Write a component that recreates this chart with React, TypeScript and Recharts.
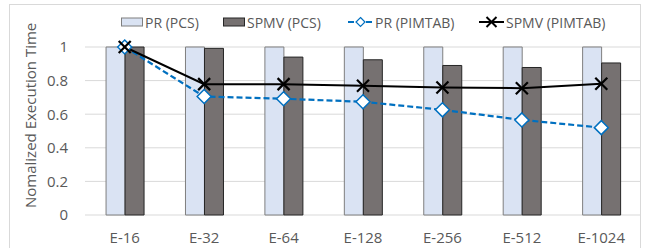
import React from "react";
import {
  ComposedChart,
  Bar,
  Line,
  XAxis,
  YAxis,
  CartesianGrid,
} from "recharts";

// categories and series values
const categories = ["E-16", "E-32", "E-64", "E-128", "E-256", "E-512", "E-1024"];
const prPcs = [1, 1, 1, 1, 1, 1, 1];
const spmvPcs = [1, 0.992, 0.94, 0.924, 0.89, 0.878, 0.905];
const prPimtab = [1, 0.705, 0.692, 0.674, 0.626, 0.566, 0.52];
const spmvPimtab = [1, 0.779, 0.779, 0.769, 0.759, 0.755, 0.781];
const yTicks = [0, 0.2, 0.4, 0.6, 0.8, 1];

const FONT = "'Open Sans', sans-serif";
const TEXT = "#595959";
const PR_FILL = "#DAE3F3";
const PR_STROKE = "#7F7F7F";
const SPMV_FILL = "#767171";
const SPMV_STROKE = "#262626";
const BLUE = "#0070C0";

const data = categories.map((c, i) => ({
  name: c,
  prPcs: prPcs[i],
  spmvPcs: spmvPcs[i],
  prPimtab: prPimtab[i],
  spmvPimtab: spmvPimtab[i],
}));

// diamond marker for PR (PIMTAB)
function DiamondDot(props: any) {
  const { cx, cy } = props;
  if (cx == null || cy == null) return null;
  const r = 7;
  return (
    <polygon
      points={`${cx},${cy - r} ${cx + r},${cy} ${cx},${cy + r} ${cx - r},${cy}`}
      fill="#FFFFFF"
      stroke={BLUE}
      strokeWidth={1.5}
    />
  );
}

// X marker for SPMV (PIMTAB)
function CrossDot(props: any) {
  const { cx, cy } = props;
  if (cx == null || cy == null) return null;
  const r = 6;
  return (
    <g stroke="#000000" strokeWidth={2.2}>
      <line x1={cx - r} y1={cy - r} x2={cx + r} y2={cy + r} />
      <line x1={cx - r} y1={cy + r} x2={cx + r} y2={cy - r} />
    </g>
  );
}

function LegendItem({ left, label, icon }: { left: number; label: string; icon: React.ReactNode }) {
  return (
    <div
      style={{
        position: "absolute",
        left,
        top: 12,
        display: "flex",
        alignItems: "center",
        height: 20,
        fontFamily: FONT,
        fontSize: 14,
        color: TEXT,
        whiteSpace: "nowrap",
      }}
    >
      {icon}
      <span style={{ marginLeft: 2 }}>{label}</span>
    </div>
  );
}

function BarIcon({ fill, stroke }: { fill: string; stroke: string }) {
  return (
    <svg width={22} height={10}>
      <rect x={0.5} y={1} width={21} height={8} fill={fill} stroke={stroke} strokeWidth={1} />
    </svg>
  );
}

function LineIcon({ kind }: { kind: "diamond" | "cross" }) {
  return (
    <svg width={25} height={14}>
      {kind === "diamond" ? (
        <g>
          <line x1={0} y1={7} x2={25} y2={7} stroke={BLUE} strokeWidth={2.2} strokeDasharray="6 3" />
          <polygon points="12.5,2.5 17,7 12.5,11.5 8,7" fill="#FFFFFF" stroke={BLUE} strokeWidth={1.2} />
        </g>
      ) : (
        <g stroke="#000000" strokeWidth={2}>
          <line x1={0} y1={7} x2={25} y2={7} />
          <line x1={7.5} y1={2} x2={17.5} y2={12} />
          <line x1={7.5} y1={12} x2={17.5} y2={2} />
        </g>
      )}
    </svg>
  );
}

export default function App() {
  return (
    <div
      style={{
        position: "absolute",
        left: 0,
        top: 0,
        width: 646,
        height: 248,
        background: "#FFFFFF",
        overflow: "hidden",
      }}
    >
      <div
        style={{
          position: "absolute",
          left: 9,
          top: 4,
          width: 630,
          height: 260,
          border: "1px solid #D9D9D9",
        }}
      />
      <LegendItem left={121} label="PR (PCS)" icon={<BarIcon fill={PR_FILL} stroke={PR_STROKE} />} />
      <LegendItem left={223} label="SPMV (PCS)" icon={<BarIcon fill={SPMV_FILL} stroke={SPMV_STROKE} />} />
      <LegendItem left={348} label="PR (PIMTAB)" icon={<LineIcon kind="diamond" />} />
      <LegendItem left={479} label="SPMV (PIMTAB)" icon={<LineIcon kind="cross" />} />
      <div style={{ position: "absolute", left: 0, top: 0 }}>
        <ComposedChart
          width={646}
          height={248}
          data={data}
          margin={{ top: 47, right: 5, left: 0, bottom: 0 }}
          barGap={0}
          barCategoryGap="26.5%"
        >
          <CartesianGrid vertical={false} stroke="#D9D9D9" strokeWidth={1} />
          <XAxis
            dataKey="name"
            axisLine={false}
            tickLine={false}
            height={33}
            tickMargin={11}
            tick={{ fontFamily: FONT, fontSize: 15, fill: TEXT }}
          />
          <YAxis
            domain={[0, 1]}
            ticks={yTicks}
            axisLine={false}
            tickLine={false}
            width={85}
            tickMargin={11}
            tick={{ fontFamily: FONT, fontSize: 15, fill: TEXT }}
            label={{
              value: "Nomalized Execution Time",
              angle: -90,
              position: "insideLeft",
              dx: 26,
              dy: 77,
              style: { fontFamily: FONT, fontSize: 15, fill: TEXT },
            }}
          />
          <Bar dataKey="prPcs" fill={PR_FILL} stroke={PR_STROKE} strokeWidth={1} isAnimationActive={false} />
          <Bar dataKey="spmvPcs" fill={SPMV_FILL} stroke={SPMV_STROKE} strokeWidth={1} isAnimationActive={false} />
          <Line
            dataKey="prPimtab"
            stroke={BLUE}
            strokeWidth={2.2}
            strokeDasharray="6 3"
            dot={<DiamondDot />}
            activeDot={false}
            isAnimationActive={false}
          />
          <Line
            dataKey="spmvPimtab"
            stroke="#000000"
            strokeWidth={2}
            dot={<CrossDot />}
            activeDot={false}
            isAnimationActive={false}
          />
        </ComposedChart>
      </div>
    </div>
  );
}
